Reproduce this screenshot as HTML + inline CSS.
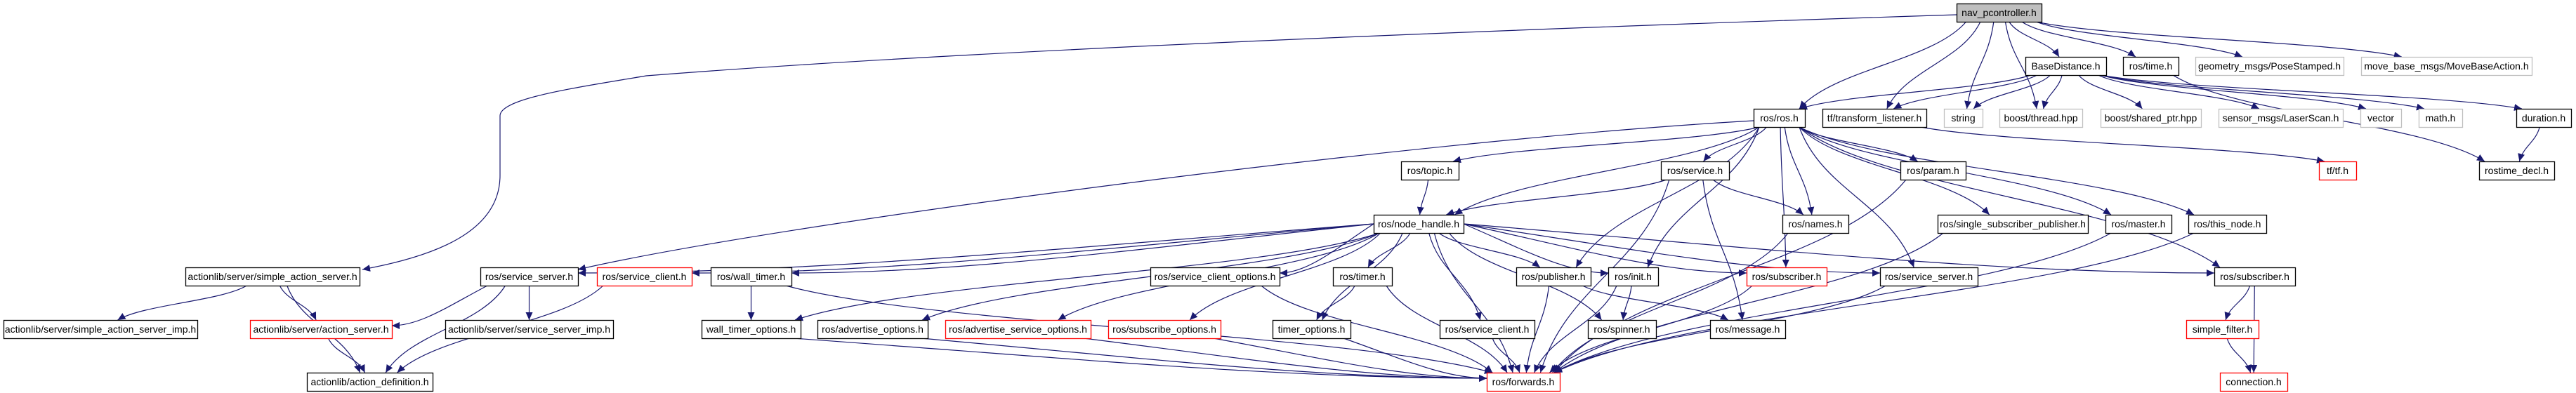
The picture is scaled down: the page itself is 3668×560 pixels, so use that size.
<!DOCTYPE html>
<html><head><meta charset="utf-8"><style>
html,body{margin:0;padding:0;background:#fff;}
svg{display:block}
text{font-family:"Liberation Sans Narrow","Liberation Sans",sans-serif;font-size:14px;fill:#000}
</style></head><body>
<svg id="g" width="3668" height="560" viewBox="0 0 3668 560" xmlns="http://www.w3.org/2000/svg">
<defs><marker id="a" markerUnits="userSpaceOnUse" markerWidth="12" markerHeight="10" refX="11" refY="5" orient="auto"><path d="M0,0 L11,5 L0,10 Z" fill="#191970"/></marker></defs>
<g id="E" fill="none" stroke="#191970" stroke-width="1.2"></g>
<g id="N"></g>
</svg>
<script>
const R=[5,81,155,230,306,381,456,531],H=26;
const n={
nav:[2786,2907,0,'g','nav_pcontroller.h'],
bd:[2884,2999,1,'k','BaseDistance.h'],
time:[3023,3102,1,'k','ros/time.h'],
geo:[3126,3337,1,'l','geometry_msgs/PoseStamped.h'],
mb:[3362,3605,1,'l','move_base_msgs/MoveBaseAction.h'],
ros:[2497,2570,2,'k','ros/ros.h'],
tl:[2595,2743,2,'k','tf/transform_listener.h'],
str:[2768,2823,2,'l','string'],
bt:[2847,2965,2,'l','boost/thread.hpp'],
sp:[2991,3134,2,'l','boost/shared_ptr.hpp'],
ls:[3159,3336,2,'l','sensor_msgs/LaserScan.h'],
vec:[3361,3419,2,'l','vector'],
math:[3444,3506,2,'l','math.h'],
dur:[3583,3661,2,'k','duration.h'],
topic:[1995,2077,3,'k','ros/topic.h'],
svc:[2365,2462,3,'k','ros/service.h'],
param:[2706,2799,3,'k','ros/param.h'],
tf:[3302,3355,3,'r','tf/tf.h'],
rd:[3530,3637,3,'k','rostime_decl.h'],
nh:[1956,2084,4,'k','ros/node_handle.h'],
names:[2538,2632,4,'k','ros/names.h'],
ssp:[2759,2973,4,'k','ros/single_subscriber_publisher.h'],
master:[2998,3092,4,'k','ros/master.h'],
tn:[3116,3227,4,'k','ros/this_node.h'],
sas:[264,512,5,'k','actionlib/server/simple_action_server.h'],
ss1:[684,823,5,'k','ros/service_server.h'],
sc1:[850,985,5,'r','ros/service_client.h'],
wt:[1012,1127,5,'k','ros/wall_timer.h'],
sco:[1638,1822,5,'k','ros/service_client_options.h'],
timer:[1898,1982,5,'k','ros/timer.h'],
pub:[2159,2265,5,'k','ros/publisher.h'],
init:[2290,2361,5,'k','ros/init.h'],
subr:[2487,2601,5,'r','ros/subscriber.h'],
ss2:[2677,2816,5,'k','ros/service_server.h'],
subk:[3153,3268,5,'k','ros/subscriber.h'],
sasi:[5,281,6,'k','actionlib/server/simple_action_server_imp.h'],
as:[356,558,6,'r','actionlib/server/action_server.h'],
ssi:[634,873,6,'k','actionlib/server/service_server_imp.h'],
wto:[999,1140,6,'k','wall_timer_options.h'],
ao:[1164,1321,6,'k','ros/advertise_options.h'],
aso:[1346,1553,6,'r','ros/advertise_service_options.h'],
so:[1578,1738,6,'r','ros/subscribe_options.h'],
to:[1812,1923,6,'k','timer_options.h'],
sc2:[2050,2185,6,'k','ros/service_client.h'],
spin:[2261,2358,6,'k','ros/spinner.h'],
msg:[2435,2542,6,'k','ros/message.h'],
sf:[3113,3216,6,'r','simple_filter.h'],
ad:[437,616,7,'k','actionlib/action_definition.h'],
fw:[2117,2221,7,'r','ros/forwards.h'],
conn:[3161,3257,7,'r','connection.h']};
const e=[['nav','ros'],['nav','tl'],['nav','str'],['nav','bt'],['nav','bd'],['nav','time'],['nav','geo'],['nav','mb'],
['bd','ros'],['bd','tl'],['bd','str'],['bd','bt'],['bd','sp'],['bd','ls'],['bd','vec'],['bd','math'],['bd','dur'],
['time','rd'],['dur','rd'],['tl','tf'],
['ros','topic'],['ros','nh'],['ros','svc'],['ros','names'],['ros','subr'],['ros','init'],['ros','pub'],['ros','param'],['ros','ssp'],['ros','master'],['ros','tn'],['ros','subk'],['ros','ss2'],
['svc','nh'],['svc','names'],['svc','msg'],['svc','fw'],['topic','nh'],
['nh','ss1'],['nh','sc1'],['nh','wt'],['nh','sco'],['nh','timer'],['nh','pub'],['nh','init'],['nh','subr'],['nh','ss2'],['nh','subk'],['nh','wto'],['nh','ao'],['nh','aso'],['nh','so'],['nh','to'],['nh','sc2'],['nh','spin'],['nh','fw'],
['names','fw'],['pub','fw'],['pub','msg'],['init','spin'],['init','fw'],['subr','fw'],['ss2','fw'],['param','fw'],['ssp','fw'],['master','fw'],['tn','fw'],
['timer','to'],['timer','fw'],['wt','wto'],['wt','fw'],['sco','fw'],['to','fw'],['sc2','fw'],['wto','fw'],['ao','fw'],['aso','fw'],['so','fw'],
['sc1','ad'],['ss1','as'],['ss1','ad'],['ss1','ssi'],['sas','sasi'],['sas','as'],['sas','ad'],['as','ad'],
['subk','sf'],['subk','conn'],['sf','conn']];
const E=document.getElementById('E'),N=document.getElementById('N'),NS='http://www.w3.org/2000/svg';
function P(d){const p=document.createElementNS(NS,'path');p.setAttribute('d',d);p.setAttribute('marker-end','url(#a)');E.appendChild(p);}
const cl=(v,a,b)=>Math.max(a,Math.min(b,v));
for(const [s,t] of e){const S=n[s],T=n[t];
 const sc=(S[0]+S[1])/2,tc=(T[0]+T[1])/2,sy=R[S[2]]+H,ty=R[T[2]],dy=ty-sy,dx=tc-sc;
 if(S[2]>=4 && T[2]==S[2]+1 && Math.abs(dx)>3.8*(dy+H)){ // lateral
  const left=dx<0;const x2=left?T[1]:T[0],y2=R[T[2]]+8;
  let x1,y1;
  if(S[2]==4){x1=left?S[0]:S[1];y1=R[S[2]]+13;}else{x1=cl(sc+dx*0.3,S[0]+10,S[1]-10);y1=sy;}
  const m=(x2-x1);P(`M${x1},${y1} C${x1+m*0.4},${y1+(y2-y1)*0.5} ${x2-m*0.3},${y2} ${x2},${y2}`);
 }else{
  const x1=cl(sc+dx*0.15,S[0]+8,S[1]-8),x2=cl(tc-dx*0.1,T[0]+8,T[1]-8);
  P(`M${x1},${sy} C${x1+(x2-x1)*0.2},${sy+dy*0.45} ${x2-(x2-x1)*0.2},${ty-dy*0.45} ${x2},${ty}`);
 }}
P('M2786,21 C2200,40 1400,70 920,108 C820,125 712,140 712,165 L712,250 C712,330 620,365 516,384');
P('M2497,172 C2000,200 1100,320 823,384');
for(const k in n){const [x1,x2,r,st,l]=n[k];const y=R[r];
 const rc=document.createElementNS(NS,'rect');rc.setAttribute('x',x1+0.5);rc.setAttribute('y',y+0.5);rc.setAttribute('width',x2-x1);rc.setAttribute('height',H);
 rc.setAttribute('fill',st=='g'?'#bfbfbf':'#fff');rc.setAttribute('stroke',st=='r'?'#ff0000':st=='l'?'#c0c0c0':'#000');rc.setAttribute('stroke-width','1.3');N.appendChild(rc);
 const tx=document.createElementNS(NS,'text');tx.setAttribute('x',(x1+x2)/2);tx.setAttribute('y',y+18);tx.setAttribute('text-anchor','middle');tx.textContent=l;N.appendChild(tx);}
</script>
</body></html>
